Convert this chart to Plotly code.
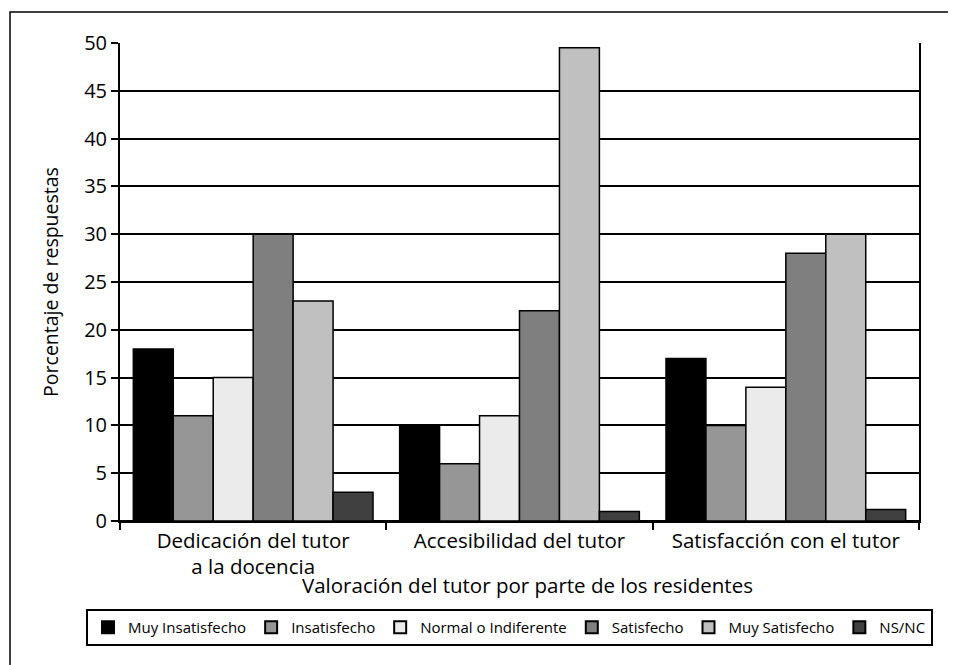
import plotly.graph_objects as go

categories = ["Dedicación del tutor<br>a la docencia", "Accesibilidad del tutor", "Satisfacción con el tutor"]
series_names = ["Muy Insatisfecho", "Insatisfecho", "Normal o Indiferente", "Satisfecho", "Muy Satisfecho", "NS/NC"]
muy_insatisfecho = [18, 10, 17]
insatisfecho = [11, 6, 10]
normal_indiferente = [15, 11, 14]
satisfecho = [30, 22, 28]
muy_satisfecho = [23, 49.5, 30]
ns_nc = [3, 1, 1.2]
series_values = [muy_insatisfecho, insatisfecho, normal_indiferente, satisfecho, muy_satisfecho, ns_nc]
colors = ["#000000", "#969696", "#ebebeb", "#7f7f7f", "#c0c0c0", "#404040"]
y_ticks = [0, 5, 10, 15, 20, 25, 30, 35, 40, 45, 50]
x_title = "Valoración del tutor por parte de los residentes"
y_title = "Porcentaje de respuestas"

FONT = "Open Sans"

fig = go.Figure()
for name, vals, col in zip(series_names, series_values, colors):
    fig.add_trace(go.Bar(
        x=categories, y=vals, name=name,
        marker=dict(color=col, line=dict(color="#000000", width=1.5)),
    ))

L, R, T, B = 112, 45, 35, 152
PW = 956 - L - R
PH = 665 - T - B

fig.update_layout(
    width=956, height=665,
    margin=dict(l=L, r=R, t=T, b=B),
    paper_bgcolor="white", plot_bgcolor="white",
    barmode="group", bargap=0.1, bargroupgap=0,
    font=dict(family=FONT, color="#000000"),
    showlegend=True,
    legend=dict(
        orientation="h", xref="paper", yref="paper",
        x=(78 - L) / PW, xanchor="left", y=(665 - B - 601) / PH, yanchor="top",
        bordercolor="#000000", borderwidth=2, bgcolor="white",
        font=dict(family=FONT, size=15, color="#000000"),
        itemsizing="constant", traceorder="normal",
    ),
    xaxis=dict(
        showline=True, linecolor="#000000", linewidth=2,
        ticks="outside", tickson="boundaries", ticklen=7, tickwidth=2, tickcolor="#000000",
        tickfont=dict(family=FONT, size=20.5), ticklabelstandoff=0,
        automargin=False,
    ),
    yaxis=dict(
        range=[0, 50], tickvals=y_ticks, ticktext=[str(v) for v in y_ticks],
        showgrid=True, gridcolor="#000000", gridwidth=2,
        showline=True, linecolor="#000000", linewidth=2, mirror=True,
        ticks="outside", ticklen=7, tickwidth=2, tickcolor="#000000",
        tickfont=dict(family=FONT, size=20),
        zeroline=True, zerolinecolor="#000000", zerolinewidth=2,
        title=dict(text=y_title, font=dict(family=FONT, size=19.5), standoff=20),
        automargin=False,
    ),
)

# x-axis title
fig.add_annotation(text=x_title, xref="paper", yref="paper",
                   x=0.5 + (527 - (L + PW / 2) - 8) / PW, y=(665 - B - 577) / PH,
                   xanchor="center", yanchor="middle", showarrow=False,
                   font=dict(family=FONT, size=20.5, color="#000000"))

# outer frame
fig.add_shape(type="rect", xref="paper", yref="paper",
              x0=(2 - L) / PW, x1=(970 - L) / PW,
              y0=(665 - B - 680) / PH, y1=(665 - B - 4) / PH,
              line=dict(color="#000000", width=1.5), fillcolor="rgba(0,0,0,0)", layer="below")

fig.write_html("out.html")
